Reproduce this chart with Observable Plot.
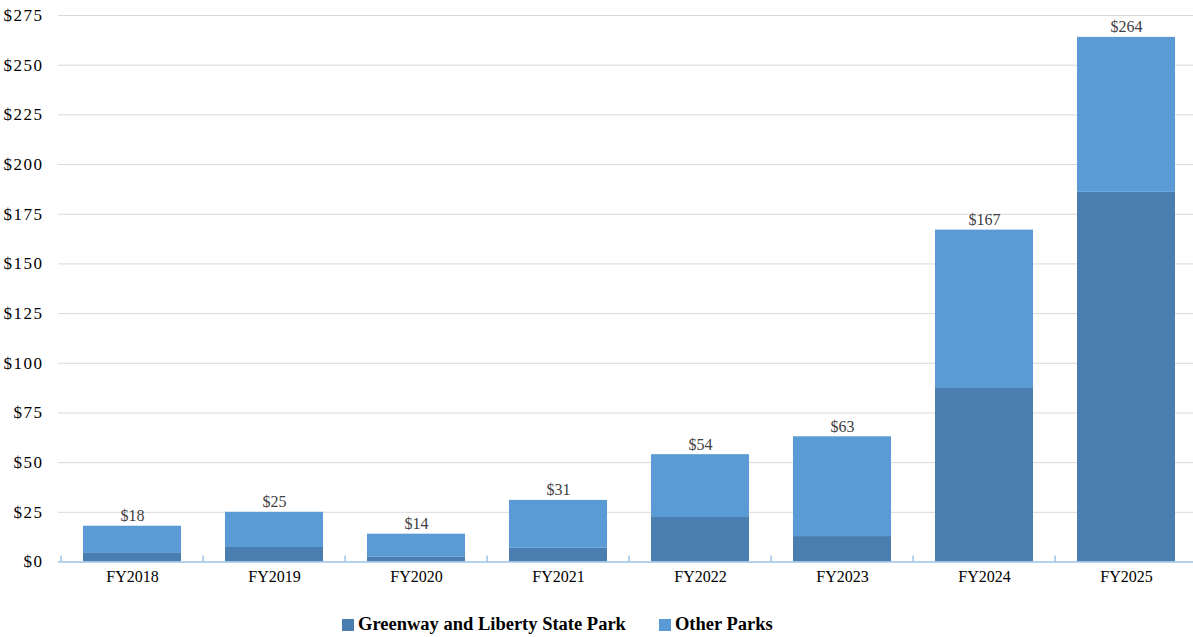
<!DOCTYPE html>
<html>
<head>
<meta charset="utf-8">
<script src="https://cdn.jsdelivr.net/npm/d3@7"></script>
<script src="https://cdn.jsdelivr.net/npm/@observablehq/plot@0.6"></script>
<style>
  html, body { margin: 0; padding: 0; background: #fff; overflow: hidden; width: 1193px; height: 637px; }
  body { position: relative; font-family: "Liberation Serif", "DejaVu Serif", serif; }
  #title { position: absolute; top: -12px; left: 0; width: 1218px; text-align: center; font-size: 17px; color: #404040; }
  #chart { position: absolute; top: 0; left: 0; width: 1193px; height: 600px; overflow: hidden; }
  #chart svg { max-width: none !important; width: 1200px !important; height: 600px !important; }
  #legend { position: absolute; top: 614px; left: 342px; display: flex; font-weight: bold; font-size: 18.5px; color: #000; white-space: nowrap; }
  .item { display: flex; align-items: center; margin-right: 33px; }
  .sw { width: 12px; height: 12px; margin-right: 4px; display: inline-block; }
  #chart g[aria-label="y-axis tick label"] text { letter-spacing: 1.5px; }
</style>
</head>
<body>
<div id="title">($ in millions)</div>
<div id="chart"></div>
<div id="legend"></div>
<script>
const years = ["FY2018", "FY2019", "FY2020", "FY2021", "FY2022", "FY2023", "FY2024", "FY2025"];
const greenway = [4.3, 7.3, 2.4, 6.9, 22.4, 12.8, 87.3, 186.0];
const otherParks = [13.7, 17.7, 11.6, 24.1, 31.6, 50.2, 79.7, 78.0];
const totals = [18, 25, 14, 31, 54, 63, 167, 264];
const seriesNames = ["Greenway and Liberty State Park", "Other Parks"];
const seriesColors = ["#4A7EB0", "#5B9BD5"];
const yTicks = [0, 25, 50, 75, 100, 125, 150, 175, 200, 225, 250, 275];

const rows = [];
years.forEach((y, i) => {
  rows.push({year: y, series: seriesNames[0], value: greenway[i]});
  rows.push({year: y, series: seriesNames[1], value: otherParks[i]});
});
const totalRows = years.map((y, i) => ({year: y, total: totals[i]}));

const W = 1200, ML = 58;
const step = (W - ML) / years.length;

const chart = Plot.plot({
  width: W,
  height: 600,
  marginTop: 15,
  marginBottom: 38.5,
  marginLeft: ML,
  marginRight: 0,
  style: {fontFamily: "'Liberation Serif', 'DejaVu Serif', serif", background: "#fff"},
  x: {domain: years, paddingInner: 0.31, paddingOuter: 0.155, label: null, tickSize: 0, tickPadding: 9},
  y: {domain: [0, 275], label: null, ticks: yTicks, tickFormat: d => "$" + d, tickSize: 0, tickPadding: 15},
  color: {domain: seriesNames, range: seriesColors},
  marks: [
    Plot.ruleY(yTicks.filter(d => d > 0), {stroke: "#D9D9D9", strokeWidth: 1}),
    Plot.barY(rows, Plot.stackY({x: "year", y: "value", fill: "series", order: seriesNames})),
    Plot.ruleY([0], {stroke: "#9DC3E6", strokeWidth: 1.5}),
    Plot.ruleX(years, {x: d => d, dx: -step / 2, y1: 0, y2: 3, stroke: "#9DC3E6", strokeWidth: 1.5}),
    Plot.text(totalRows, {x: "year", y: "total", text: d => "$" + d.total, lineAnchor: "bottom", dy: -5, fontSize: 16, fill: "#404040"}),
    Plot.axisX({tickSize: 0, tickPadding: 9, fontSize: 16, fill: "#000"}),
    Plot.axisY({ticks: yTicks, tickFormat: d => "$" + d, tickSize: 0, tickPadding: 15, fontSize: 17, fill: "#000"})
  ]
});
document.getElementById("chart").appendChild(chart);

const legend = document.getElementById("legend");
seriesNames.forEach((name, i) => {
  const it = document.createElement("div");
  it.className = "item";
  const sw = document.createElement("span");
  sw.className = "sw";
  sw.style.background = seriesColors[i];
  const lab = document.createElement("span");
  lab.textContent = name;
  it.appendChild(sw);
  it.appendChild(lab);
  legend.appendChild(it);
});
</script>
</body>
</html>
